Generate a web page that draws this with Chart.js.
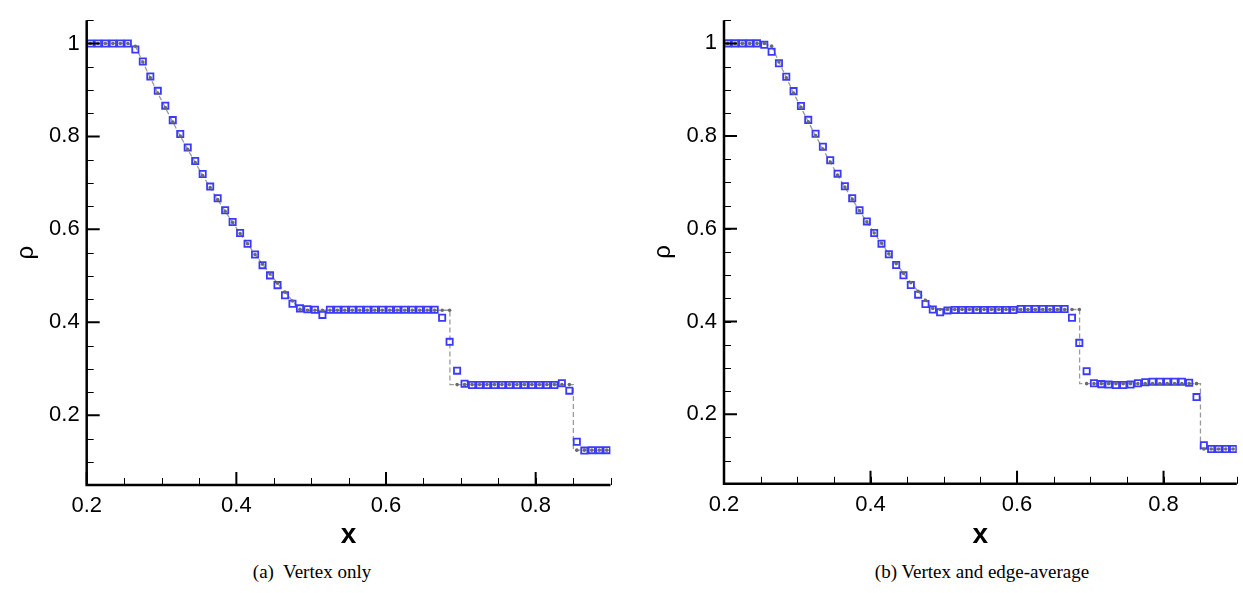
<!DOCTYPE html>
<html>
<head>
<meta charset="utf-8">
<script src="https://cdn.jsdelivr.net/npm/chart.js@4.4.0/dist/chart.umd.min.js"></script>
<style>
  html, body { margin: 0; padding: 0; background: #fff; }
  body { width: 1243px; height: 593px; position: relative; overflow: hidden; }
  canvas { position: absolute; top: 0; }
  .caption {
    position: absolute;
    font-family: 'Liberation Serif', 'DejaVu Serif', serif;
    font-size: 19px;
    line-height: 22px;
    color: #000;
    white-space: pre;
    transform: translateX(-50%);
  }
</style>
</head>
<body>
<canvas id="leftChart" width="622" height="560" style="left:0"></canvas>
<canvas id="rightChart" width="606" height="560" style="left:637px"></canvas>
<div class="caption" style="left:312px;top:561px">(a)  Vertex only</div>
<div class="caption" style="left:982px;top:561px">(b) Vertex and edge-average</div>
<script>
// cell centres
const xCells = [
  0.205, 0.215, 0.225, 0.235, 0.245, 0.255, 0.265, 0.275, 0.285, 0.295,
  0.305, 0.315, 0.325, 0.335, 0.345, 0.355, 0.365, 0.375, 0.385, 0.395,
  0.405, 0.415, 0.425, 0.435, 0.445, 0.455, 0.465, 0.475, 0.485, 0.495,
  0.505, 0.515, 0.525, 0.535, 0.545, 0.555, 0.565, 0.575, 0.585, 0.595,
  0.605, 0.615, 0.625, 0.635, 0.645, 0.655, 0.665, 0.675, 0.685, 0.695,
  0.705, 0.715, 0.725, 0.735, 0.745, 0.755, 0.765, 0.775, 0.785, 0.795,
  0.805, 0.815, 0.825, 0.835, 0.845, 0.855, 0.865, 0.875, 0.885, 0.895,
];

// (a) vertex only
const rhoVertex = [
  1.000, 1.000, 1.000, 1.000, 1.000, 1.000, 0.987, 0.961, 0.929, 0.898,
  0.866, 0.835, 0.805, 0.776, 0.747, 0.719, 0.692, 0.667, 0.641, 0.616,
  0.592, 0.569, 0.546, 0.523, 0.501, 0.480, 0.458, 0.440, 0.430, 0.428,
  0.427, 0.416, 0.427, 0.427, 0.427, 0.427, 0.427, 0.427, 0.427, 0.427,
  0.427, 0.427, 0.427, 0.427, 0.427, 0.427, 0.427, 0.410, 0.358, 0.296,
  0.268, 0.265, 0.265, 0.265, 0.265, 0.265, 0.265, 0.265, 0.265, 0.265,
  0.265, 0.265, 0.265, 0.269, 0.253, 0.143, 0.124, 0.125, 0.125, 0.125,
];

// (b) vertex and edge-average
const rhoEdgeAvg = [
  1.000, 1.000, 1.000, 1.000, 1.000, 0.997, 0.982, 0.957, 0.928, 0.897,
  0.865, 0.835, 0.805, 0.777, 0.748, 0.719, 0.692, 0.666, 0.640, 0.616,
  0.591, 0.568, 0.545, 0.522, 0.500, 0.479, 0.458, 0.438, 0.426, 0.420,
  0.424, 0.425, 0.425, 0.425, 0.425, 0.425, 0.425, 0.425, 0.425, 0.425,
  0.427, 0.427, 0.427, 0.427, 0.427, 0.427, 0.427, 0.408, 0.354, 0.293,
  0.267, 0.265, 0.264, 0.263, 0.263, 0.264, 0.267, 0.269, 0.270, 0.270,
  0.270, 0.270, 0.270, 0.268, 0.237, 0.133, 0.125, 0.125, 0.125, 0.125,
];

// exact solution at the cell centres
const rhoExact = [
  1.000, 1.000, 1.000, 1.000, 1.000, 1.000, 0.994, 0.960, 0.926, 0.893,
  0.862, 0.831, 0.801, 0.772, 0.744, 0.716, 0.690, 0.664, 0.639, 0.615,
  0.591, 0.569, 0.546, 0.525, 0.504, 0.484, 0.465, 0.446, 0.428, 0.426,
  0.426, 0.426, 0.426, 0.426, 0.426, 0.426, 0.426, 0.426, 0.426, 0.426,
  0.426, 0.426, 0.426, 0.426, 0.426, 0.426, 0.426, 0.426, 0.426, 0.266,
  0.266, 0.266, 0.266, 0.266, 0.266, 0.266, 0.266, 0.266, 0.266, 0.266,
  0.266, 0.266, 0.266, 0.266, 0.266, 0.125, 0.125, 0.125, 0.125, 0.125,
];

// extra vertices of the exact line (domain ends, contact and shock jumps)
const exactEdgeX = [0.200, 0.6854, 0.6854, 0.8504, 0.8504, 0.900];
const exactEdgeRho = [1.000, 0.426, 0.266, 0.266, 0.125, 0.125];

const xTicks = [0.2, 0.4, 0.6, 0.8];
const yTicks = [0.2, 0.4, 0.6, 0.8, 1];

Chart.defaults.font.family = "'Liberation Sans', Arial, sans-serif";
Chart.defaults.color = '#000';

function toPoints(xs, ys) {
  return xs.map((x, i) => ({ x, y: ys[i] }));
}

function minorTicks(min, max, step) {
  const out = [];
  for (let i = 0; min + i * step <= max + 1e-9; i++) out.push(+(min + i * step).toFixed(3));
  return out;
}

const axesPlugin = {
  id: 'axes',
  afterDatasetsDraw(chart) {
    const { ctx, chartArea: { left, right, top, bottom }, scales: { x, y } } = chart;
    ctx.save();
    ctx.strokeStyle = '#000';

    ctx.lineWidth = 1;
    ctx.beginPath();
    minorTicks(0.25, 0.9, 0.05).forEach(v => {
      const px = Math.round(x.getPixelForValue(v)) + 0.5;
      ctx.moveTo(px, bottom);
      ctx.lineTo(px, bottom - 7);
    });
    minorTicks(0.05, 1.05, 0.05).forEach(v => {
      const py = Math.round(y.getPixelForValue(v)) + 0.5;
      ctx.moveTo(left, py);
      ctx.lineTo(left + 7, py);
    });
    ctx.stroke();

    ctx.lineWidth = 2;
    ctx.beginPath();
    xTicks.forEach(v => {
      const px = x.getPixelForValue(v);
      ctx.moveTo(px, bottom);
      ctx.lineTo(px, bottom - 13);
    });
    yTicks.forEach(v => {
      const py = y.getPixelForValue(v);
      ctx.moveTo(left, py);
      ctx.lineTo(left + 13, py);
    });
    ctx.stroke();

    ctx.lineWidth = 2.5;
    ctx.beginPath();
    ctx.moveTo(left, top);
    ctx.lineTo(left, bottom);
    ctx.lineTo(right, bottom);
    ctx.stroke();
    ctx.restore();
  },
};

function createRhoChart(canvas, rhoNumeric, frame) {
  const exactLine = toPoints(xCells, rhoExact)
    .concat(toPoints(exactEdgeX, exactEdgeRho))
    .sort((a, b) => a.x - b.x);

  return new Chart(canvas.getContext('2d'), {
    type: 'scatter',
    data: {
      datasets: [
        {
          label: 'Exact markers',
          data: toPoints(xCells, rhoExact),
          showLine: false,
          pointStyle: 'circle',
          pointRadius: 1.8,
          backgroundColor: '#6a6a6a',
          borderWidth: 0,
          order: 1,
        },
        {
          label: 'Numerical',
          data: toPoints(xCells, rhoNumeric),
          showLine: false,
          pointStyle: 'rect',
          pointRadius: 4.4,
          borderColor: '#3a3aff',
          backgroundColor: 'rgba(0,0,0,0)',
          borderWidth: 1.8,
          order: 2,
        },
        {
          label: 'Exact',
          data: exactLine,
          showLine: true,
          borderColor: '#9a9a9a',
          borderWidth: 1.3,
          borderDash: [5, 3],
          pointRadius: 0,
          order: 3,
        },
      ],
    },
    options: {
      responsive: false,
      animation: false,
      events: [],
      layout: { padding: { left: 0, top: frame.top, right: frame.right, bottom: 0 } },
      plugins: { legend: { display: false }, tooltip: { enabled: false } },
      scales: {
        x: {
          type: 'linear',
          min: 0.2,
          max: 0.9,
          afterBuildTicks: s => { s.ticks = xTicks.map(v => ({ value: v })); },
          afterFit: s => { s.height = frame.xAxisHeight; },
          grid: { display: false, drawTicks: false },
          border: { display: false },
          ticks: { font: { size: 22 }, color: '#000', padding: 8, maxRotation: 0, autoSkip: false, callback: v => String(v) },
          title: { display: true, text: 'x', font: { size: 28, weight: 'bold' }, color: '#000', padding: { top: 0, bottom: 8 } },
        },
        y: {
          type: 'linear',
          min: 0.05,
          max: 1.05,
          afterBuildTicks: s => { s.ticks = yTicks.map(v => ({ value: v })); },
          afterFit: s => { s.width = frame.yAxisWidth; },
          grid: { display: false, drawTicks: false },
          border: { display: false },
          ticks: { font: { size: 22 }, color: '#000', padding: 7, autoSkip: false, callback: v => String(v) },
          title: { display: true, text: 'ρ', font: { size: 24 }, color: '#000', padding: { top: 12, bottom: 0 } },
        },
      },
    },
    plugins: [axesPlugin],
  });
}

createRhoChart(document.getElementById('leftChart'), rhoVertex,
  { top: 8.4, right: 11.5, xAxisHeight: 75, yAxisWidth: 86.7 });
createRhoChart(document.getElementById('rightChart'), rhoEdgeAvg,
  { top: 10.3, right: 1, xAxisHeight: 76.2, yAxisWidth: 87 });
</script>
</body>
</html>
